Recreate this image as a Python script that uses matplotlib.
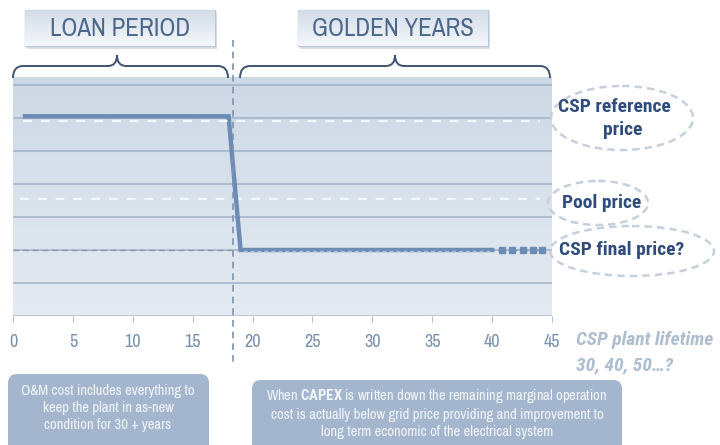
import numpy as np
import matplotlib
matplotlib.use('Agg')
import matplotlib.pyplot as plt
from matplotlib.patches import FancyBboxPatch, Ellipse, PathPatch
from matplotlib.path import Path

plt.rcParams['font.family'] = ['Archivo Narrow', 'PT Sans Narrow', 'DejaVu Sans']
plt.rcParams['mathtext.fontset'] = 'custom'
plt.rcParams['mathtext.bf'] = 'Roboto Condensed:bold'
plt.rcParams['mathtext.rm'] = 'Roboto Condensed'

# data
xticks = [0, 5, 10, 15, 20, 25, 30, 35, 40, 45]
price_x = [1, 18, 19, 40]
price_y = [6.05, 6.05, 2.0, 2.0]
ext_x = [40, 40.8, 41.7, 42.6, 43.4, 44.2]
ext_y = [2.0, 2.0, 2.0, 2.0, 2.0, 2.0]
ref_x = [0.8, 44]
ref_y = [5.92, 5.92]
pool_x = [0.6, 44]
pool_y = [3.55, 3.55]
final_x = [0, 18.3]
final_y = [2.0, 2.0]
split_year = 18.4
periods = ['LOAN PERIOD', 'GOLDEN YEARS']

W, H = 720, 445
fig = plt.figure(figsize=(7.2, 4.45), dpi=100)
fig.patch.set_facecolor('white')

# main chart (pixel box 13..552 x 77..316)
ax = fig.add_axes([13 / W, (H - 316) / H, 539 / W, (316 - 77) / H])
ax.set_xlim(0, 45)
ax.set_ylim(0, 7.24)
grad = np.linspace(0, 1, 256).reshape(-1, 1)
ax.imshow(grad, extent=[0, 45, 0, 7.24], aspect='auto', zorder=0,
          cmap=matplotlib.colors.LinearSegmentedColormap.from_list('bg', ['#e5ebf2', '#cdd8e5']),
          origin='lower')
for g in range(1, 8):
    ax.axhline(g, color='#9fb1c8', lw=1.1, zorder=1)
ax.axhline(0, color='#b5c0cd', lw=1.2, zorder=1)

ax.plot(final_x, final_y, color='#8c9cb0', lw=1, ls=(0, (4, 3)), zorder=2)
ax.plot(pool_x, pool_y, color='#f4f7fb', lw=1.6, ls=(0, (4, 4)), zorder=2)
ax.plot(price_x, price_y, color='#6c8cb6', lw=3.2, solid_joinstyle='miter', zorder=3)
ax.plot(ref_x, ref_y, color='#f4f7fb', lw=1.6, ls=(0, (4, 4)), zorder=4)
ax.plot([19.2, 39.8], [1.98, 1.98], color='#aebfd4', lw=1, ls=(0, (3, 2)), zorder=4)
ax.plot(ext_x, ext_y, color='#7b92b0', lw=1, ls=(0, (2, 2)), marker='s', ms=4,
        markevery=slice(1, None), mfc='#6c8cb6', mec='#6c8cb6', zorder=3)
ax.plot([split_year, split_year], [8.36, -1.48], color='#7d93b2', lw=1.2,
        ls=(0, (4, 3)), clip_on=False, zorder=5)

for s in ax.spines.values():
    s.set_visible(False)
ax.set_xticks(xticks)
ax.set_yticks([])
ax.tick_params(axis='x', length=4, color='#b0bccb', labelsize=13, labelcolor='#7890ad', pad=9)

# overlay in pixel coordinates
ov = fig.add_axes([0, 0, 1, 1], zorder=10)
ov.axis('off')

# period header boxes
tcmap = matplotlib.colors.LinearSegmentedColormap.from_list('hdr', ['#f6f8fb', '#d2dce8'])
for label, (x0, x1) in zip(periods, [(25, 215), (298, 488)]):
    shadow = FancyBboxPatch((x0 + 2, 13), x1 - x0, 36, boxstyle='square,pad=0',
                            fc='#c3cedb', ec='none', alpha=0.6)
    ov.add_patch(shadow)
    box = FancyBboxPatch((x0, 10), x1 - x0, 36, boxstyle='square,pad=0',
                         fc='none', ec='#b7c6d8', lw=1)
    ov.add_patch(box)
    im = ov.imshow(grad, extent=[x0, x1, 46, 10], aspect='auto', cmap=tcmap,
                   origin='lower', zorder=1)
    im.set_clip_path(box)
    ov.text((x0 + x1) / 2, 29, label, ha='center', va='center', fontsize=18,
            color='#4b678a', zorder=3)
ov.set_xlim(0, W)
ov.set_ylim(H, 0)

# braces
def brace(x0, x1, xt, yb=78, ym=66, yt=55):
    verts = [(x0, yb), (x0, ym), (x0 + 10, ym), (xt - 9, ym), (xt, ym), (xt, yt),
             (xt, ym), (xt + 9, ym), (x1 - 10, ym), (x1, ym), (x1, yb)]
    codes = [Path.MOVETO, Path.CURVE3, Path.CURVE3, Path.LINETO, Path.CURVE3, Path.CURVE3,
             Path.CURVE3, Path.CURVE3, Path.LINETO, Path.CURVE3, Path.CURVE3]
    ov.add_patch(PathPatch(Path(verts, codes), fc='none', ec='#3e5470', lw=1.4))

brace(13, 228, 117)
brace(240, 550, 395)

# right-hand labels
ell_kw = dict(fc='none', ec='#c6d0dc', lw=1.8, ls=(0, (3, 2)))
ov.add_patch(Ellipse((622, 118), 142, 64, **ell_kw))
ov.add_patch(Ellipse((598, 203), 100, 44, **ell_kw))
ov.add_patch(Ellipse((632, 251), 164, 50, **ell_kw))
lab_kw = dict(ha='center', va='center', fontsize=14, fontweight='bold', color='#2f4c7c',
              family=['Roboto Condensed', 'PT Sans Narrow', 'DejaVu Sans'])
ov.text(614, 107, 'CSP reference', **lab_kw)
ov.text(623, 130, 'price', **lab_kw)
ov.text(602, 203, 'Pool price', **lab_kw)
ov.text(622, 250, 'CSP final price?', **lab_kw)

life_kw = dict(ha='left', va='center', fontsize=14, fontweight='bold', fontstyle='italic',
               color='#aebdd0', family=['Roboto Condensed', 'DejaVu Sans'])
ov.text(576, 340, 'CSP plant lifetime', **life_kw)
ov.text(576, 365, '30, 40, 50\u2026?', **life_kw)

# note boxes
note_kw = dict(boxstyle='round,pad=0,rounding_size=9', fc='#a3b6cd', ec='none')
ov.add_patch(FancyBboxPatch((8, 374), 201, 80, **note_kw))
ov.add_patch(FancyBboxPatch((252, 380), 370, 80, **note_kw))
ov.text(108, 408, 'O&M cost includes everything to\nkeep the plant in as-new\ncondition for 30 + years',
        ha='center', va='center', fontsize=10.5, color='#f2f5f9', linespacing=1.3)
ov.text(437, 413, 'When $\\mathbf{CAPEX}$ is written down the remaining marginal operation\n'
        'cost is actually below grid price providing and improvement to\n'
        'long term economic of the electrical system',
        ha='center', va='center', fontsize=10.5, color='#f2f5f9', linespacing=1.3)

fig.savefig('out.png', dpi=100)
